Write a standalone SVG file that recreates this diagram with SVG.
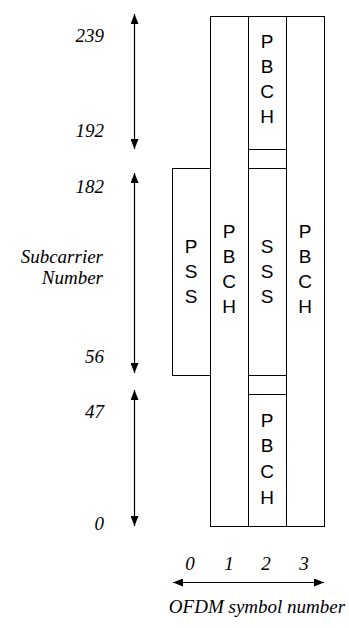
<svg xmlns="http://www.w3.org/2000/svg" width="349" height="628" viewBox="0 0 349 628">
<style>
.box{fill:#fff;stroke:#000;stroke-width:1}
.lbl{font-size:19px;fill:#000;text-anchor:middle}
.num{font-style:italic;font-size:19px;fill:#000}
.ax{stroke:#000;stroke-width:1.2;fill:none;marker-start:url(#ah);marker-end:url(#ah)}
</style>
<defs>
<marker id="ah" viewBox="0 0 10 8" refX="10" refY="4" markerWidth="10" markerHeight="8" markerUnits="userSpaceOnUse" orient="auto-start-reverse">
<path d="M0,0 L10,4 L0,8 z" fill="#000"/>
</marker>
</defs>
<g id="pss" font-family="Liberation Sans, Arial, sans-serif">
<rect class="box" x="172.5" y="168.5" width="38" height="207"/>
<text class="lbl" x="191" y="253">P</text>
<text class="lbl" x="191" y="278">S</text>
<text class="lbl" x="191" y="303">S</text>
</g>
<g id="pbch1" font-family="Liberation Sans, Arial, sans-serif">
<rect class="box" x="210.5" y="16.5" width="38" height="510"/>
<text class="lbl" x="229" y="238">P</text>
<text class="lbl" x="229" y="263">B</text>
<text class="lbl" x="229" y="288">C</text>
<text class="lbl" x="229" y="313">H</text>
</g>
<g id="pbch2top" font-family="Liberation Sans, Arial, sans-serif">
<rect class="box" x="248.5" y="16.5" width="38" height="133"/>
<text class="lbl" x="267" y="48">P</text>
<text class="lbl" x="267" y="73">B</text>
<text class="lbl" x="267" y="98">C</text>
<text class="lbl" x="267" y="123">H</text>
</g>
<g id="gap2top">
<rect class="box" x="248.5" y="149.5" width="38" height="19"/>
</g>
<g id="sss" font-family="Liberation Sans, Arial, sans-serif">
<rect class="box" x="248.5" y="168.5" width="38" height="207"/>
<text class="lbl" x="267" y="253">S</text>
<text class="lbl" x="267" y="278">S</text>
<text class="lbl" x="267" y="303">S</text>
</g>
<g id="gap2bottom">
<rect class="box" x="248.5" y="375.5" width="38" height="19"/>
</g>
<g id="pbch2bottom" font-family="Liberation Sans, Arial, sans-serif">
<rect class="box" x="248.5" y="394.5" width="38" height="132"/>
<text class="lbl" x="267" y="427">P</text>
<text class="lbl" x="267" y="452">B</text>
<text class="lbl" x="267" y="478">C</text>
<text class="lbl" x="267" y="504">H</text>
</g>
<g id="pbch3" font-family="Liberation Sans, Arial, sans-serif">
<rect class="box" x="286.5" y="16.5" width="38" height="510"/>
<text class="lbl" x="305" y="238">P</text>
<text class="lbl" x="305" y="263">B</text>
<text class="lbl" x="305" y="288">C</text>
<text class="lbl" x="305" y="313">H</text>
</g>
<g id="connectors">
<line class="ax" x1="134.5" y1="14" x2="134.5" y2="149"/>
<line class="ax" x1="134.5" y1="173" x2="134.5" y2="373"/>
<line class="ax" x1="134.5" y1="390" x2="134.5" y2="526"/>
<line class="ax" x1="173" y1="582.5" x2="324" y2="582.5"/>
</g>
<g id="labels" font-family="Liberation Serif, Times New Roman, serif">
<text class="num" x="104" y="42" text-anchor="end">239</text>
<text class="num" x="104" y="137" text-anchor="end">192</text>
<text class="num" x="104" y="193" text-anchor="end">182</text>
<text class="num" x="103" y="263" text-anchor="end">Subcarrier</text>
<text class="num" x="103" y="284" text-anchor="end">Number</text>
<text class="num" x="104" y="363" text-anchor="end">56</text>
<text class="num" x="104" y="418" text-anchor="end">47</text>
<text class="num" x="104" y="530" text-anchor="end">0</text>
<text class="num" x="190" y="570" text-anchor="middle">0</text>
<text class="num" x="229" y="570" text-anchor="middle">1</text>
<text class="num" x="266" y="570" text-anchor="middle">2</text>
<text class="num" x="304" y="570" text-anchor="middle">3</text>
<text class="num" x="257" y="613" text-anchor="middle">OFDM symbol number</text>
</g>
</svg>
